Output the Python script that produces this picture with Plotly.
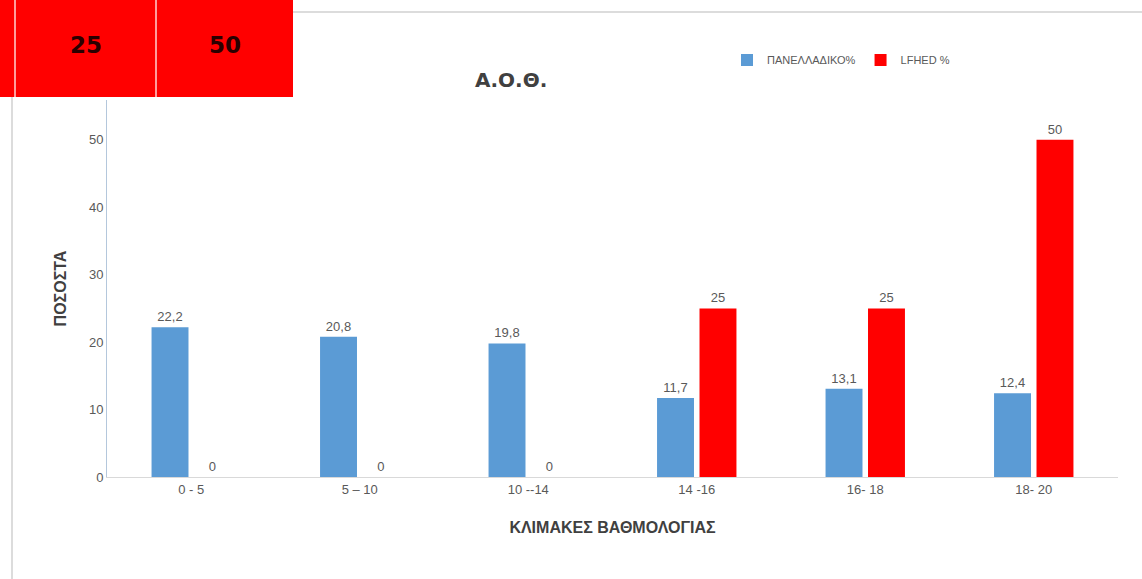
import plotly.graph_objects as go

categories = ["0 - 5", "5 – 10", "10 --14", "14 -16", "16- 18", "18- 20"]
panelladiko = [22.2, 20.8, 19.8, 11.7, 13.1, 12.4]
lfhed = [0, 0, 0, 25, 25, 50]
table_values = ["25", "50"]

W, H = 1142, 579
L, R, T, B = 107, 24, 100, 102
PW = W - L - R
PH = H - T - B

def px(x):
    return (x - L) / PW

def py(y):
    return 1 - (y - T) / PH

def fmt(v):
    return f"{v:g}".replace(".", ",")

FONT = "Liberation Sans Narrow, Liberation Sans, Arial"
GRAY = "#595959"

fig = go.Figure()
fig.add_trace(go.Bar(
    x=categories, y=panelladiko, name="ΠΑΝΕΛΛΑΔΙΚΟ%",
    marker=dict(color="#5b9bd5", line=dict(width=0)),
    text=[fmt(v) for v in panelladiko], textposition="outside",
    textfont=dict(size=13, color=GRAY, family=FONT), cliponaxis=False,
))
fig.add_trace(go.Bar(
    x=categories, y=lfhed, name="LFHED %",
    marker=dict(color="#ff0000", line=dict(width=0)),
    text=[fmt(v) for v in lfhed], textposition="outside",
    textfont=dict(size=13, color=GRAY, family=FONT), cliponaxis=False,
))

shapes = []
# red table fragment at top-left
shapes.append(dict(type="rect", xref="paper", yref="paper",
                   x0=px(0), x1=px(293), y0=py(97), y1=py(0),
                   fillcolor="#ff0000", line=dict(width=0), layer="above"))
for xv in (15, 156):
    shapes.append(dict(type="line", xref="paper", yref="paper",
                       x0=px(xv), x1=px(xv), y0=py(97), y1=py(0),
                       line=dict(color="#ffd0d0", width=1.5), layer="above"))
# slide frame lines
shapes.append(dict(type="line", xref="paper", yref="paper",
                   x0=px(293), x1=px(1142), y0=py(12), y1=py(12),
                   line=dict(color="#d0d0d0", width=1.5)))
shapes.append(dict(type="line", xref="paper", yref="paper",
                   x0=px(12), x1=px(12), y0=py(97), y1=py(579),
                   line=dict(color="#d0d0d0", width=1.5)))

annotations = []
for xv, t in zip((86, 225), table_values):
    annotations.append(dict(xref="paper", yref="paper", x=px(xv), y=py(45),
                            xanchor="center", yanchor="middle",
                            text=f"<b>{t}</b>", showarrow=False,
                            font=dict(size=23, color="#2a0000", family="DejaVu Sans")))
annotations.append(dict(xref="paper", yref="paper", x=px(511), y=py(80),
                        xanchor="center", yanchor="middle",
                        text="<b>Α.Ο.Θ.</b>", showarrow=False,
                        font=dict(size=20, color="#404040", family="DejaVu Sans")))

fig.update_layout(
    width=W, height=H,
    margin=dict(l=L, r=R, t=T, b=B, autoexpand=False),
    paper_bgcolor="white", plot_bgcolor="white",
    barmode="group", bargap=0.496, bargroupgap=0.13,
    showlegend=True,
    legend=dict(orientation="h", x=px(727), y=py(60), xanchor="left", yanchor="middle",
                font=dict(size=11, color=GRAY, family=FONT), bgcolor="rgba(0,0,0,0)",
                itemwidth=30),
    shapes=shapes, annotations=annotations,
    font=dict(family=FONT, color=GRAY),
)
fig.update_xaxes(
    showline=True, linecolor="#d9d9d9", linewidth=1, ticks="",
    tickfont=dict(size=13, color=GRAY, family=FONT),
    title=dict(text="<b>ΚΛΙΜΑΚΕΣ ΒΑΘΜΟΛΟΓΙΑΣ</b>", font=dict(size=16, color="#404040", family=FONT), standoff=26),
)
fig.update_yaxes(
    range=[0, 55.9], showgrid=False, zeroline=False,
    showline=True, linecolor="#b4c7dc", linewidth=1,
    tickvals=[0, 10, 20, 30, 40, 50], ticks="",
    tickfont=dict(size=13, color=GRAY, family=FONT),
    title=dict(text="<b>ΠΟΣΟΣΤΑ</b>", font=dict(size=16, color="#404040", family=FONT), standoff=18),
)

fig.write_html("out.html", config={"displayModeBar": False},
               post_script="document.body.style.margin='0';")
